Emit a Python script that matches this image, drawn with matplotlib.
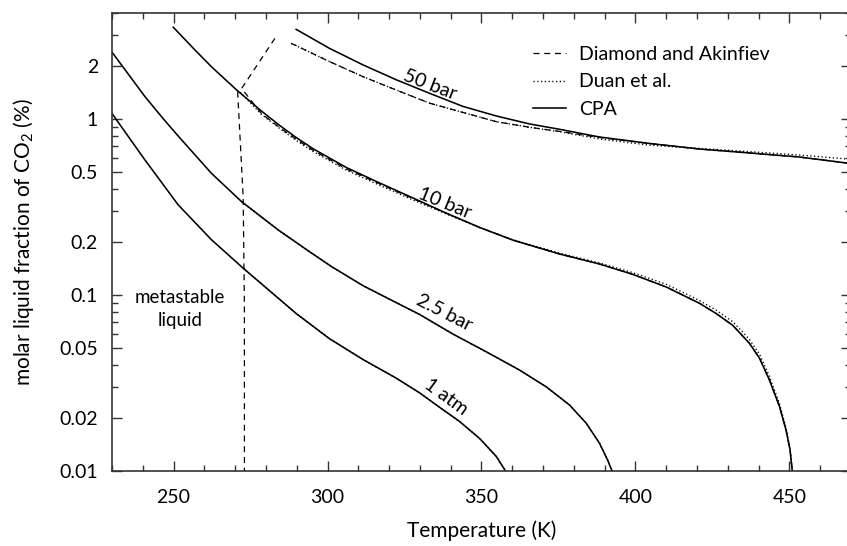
import matplotlib
matplotlib.use('Agg')
import matplotlib.pyplot as plt
from matplotlib.ticker import FixedLocator, NullFormatter, MultipleLocator

plt.rcParams['font.family'] = ['Lato', 'DejaVu Sans']
plt.rcParams['mathtext.fontset'] = 'custom'
plt.rcParams['mathtext.rm'] = 'Lato'
plt.rcParams['mathtext.it'] = 'Lato:italic'

# CPA solubility curves (T in K, x_CO2 in %)
cpa_1atm_T = [229.9, 240.7, 251.5, 262.3, 272.6, 289.8, 300.6, 311.5, 322.3, 329.9,
              336.4, 342.9, 349.4, 354.8, 357.8]
cpa_1atm_x = [1.08, 0.585, 0.325, 0.206, 0.142, 0.0785, 0.0565, 0.0430, 0.0337, 0.0278,
              0.0230, 0.0191, 0.0153, 0.0121, 0.010]

cpa_25bar_T = [229.9, 240.7, 246.7, 251.5, 262.3, 272.1, 284.0, 294.8, 301.3, 311.5,
               322.3, 329.9, 340.7, 351.5, 362.3, 371.0, 378.6, 384.0, 388.3, 391.0, 392.4]
cpa_25bar_x = [2.41, 1.34, 1.0, 0.80, 0.491, 0.339, 0.234, 0.173, 0.145, 0.113,
               0.0905, 0.0775, 0.0600, 0.0476, 0.0375, 0.0301, 0.0237, 0.0187, 0.0144, 0.0115, 0.0100]

cpa_10bar_T = [249.9, 256.9, 262.3, 270.5, 278.6, 284.4, 289.4, 295.2, 306.1, 316.9,
               327.7, 338.5, 349.4, 360.2, 375.3, 388.3, 399.1, 410.0, 420.8, 426.2,
               431.6, 437.0, 440.3, 443.5, 446.8, 448.9, 450.2, 450.9]
cpa_10bar_x = [3.32, 2.47, 1.98, 1.46, 1.107, 0.92, 0.794, 0.679, 0.530, 0.433,
               0.356, 0.292, 0.242, 0.205, 0.171, 0.150, 0.131, 0.111, 0.0897, 0.0785,
               0.0672, 0.0532, 0.0437, 0.0329, 0.0232, 0.0171, 0.0132, 0.0101]

cpa_50bar_T = [289.8, 300.6, 311.5, 322.3, 333.1, 343.9, 354.8, 365.6, 375.3, 388.3,
               404.5, 420.8, 437.0, 453.2, 470.0]
cpa_50bar_x = [3.23, 2.52, 2.03, 1.67, 1.40, 1.18, 1.04, 0.937, 0.874, 0.79,
               0.726, 0.675, 0.641, 0.608, 0.558]

# Duan et al.
duan_1atm_T = cpa_1atm_T[4:]
duan_1atm_x = cpa_1atm_x[4:]
duan_25bar_T = cpa_25bar_T[5:]
duan_25bar_x = cpa_25bar_x[5:]

duan_10bar_T = [271.6, 278.6, 284.4, 289.4, 295.2, 306.1, 316.9, 327.7, 338.5, 349.4,
                360.2, 375.3, 388.3, 399.1, 410.0, 420.8, 426.2, 431.6, 437.0, 440.3,
                443.5, 446.8, 448.9, 450.2, 450.9]
duan_10bar_x = [1.42, 1.06, 0.885, 0.765, 0.655, 0.512, 0.420, 0.347, 0.289, 0.241,
                0.206, 0.173, 0.152, 0.134, 0.115, 0.093, 0.082, 0.0705, 0.0560, 0.0460,
                0.0345, 0.0240, 0.0175, 0.0134, 0.0101]

duan_50bar_T = [288.2, 300.6, 311.5, 322.3, 333.1, 343.9, 354.8, 365.6, 375.3, 388.3,
                404.5, 420.8, 437.0, 453.2, 470.0]
duan_50bar_x = [2.69, 2.12, 1.74, 1.46, 1.23, 1.09, 0.965, 0.897, 0.847, 0.77,
                0.71, 0.68, 0.652, 0.624, 0.59]

# Diamond and Akinfiev
da_ice_T = [270.8, 272.6, 273.0, 273.0]
da_ice_x = [1.43, 0.362, 0.086, 0.010]

da_10bar_T = [282.9, 272.1, 278.6, 284.4, 289.4, 295.2, 306.1, 316.9, 327.7, 338.5,
              349.4, 360.2, 375.3, 388.3, 399.1, 410.0, 420.8, 426.2, 431.6, 437.0,
              440.3, 443.5, 446.8, 448.9, 450.2, 450.9]
da_10bar_x = [2.87, 1.49, 1.07, 0.895, 0.775, 0.665, 0.520, 0.428, 0.353, 0.292,
              0.242, 0.205, 0.171, 0.150, 0.131, 0.111, 0.0897, 0.0785, 0.0672, 0.0532,
              0.0437, 0.0329, 0.0232, 0.0171, 0.0132, 0.0101]

da_50bar_T = [288.2, 300.6, 311.5, 322.3, 333.1, 343.9, 354.8, 365.6, 375.3, 388.3,
              404.5, 420.8, 437.0, 453.2, 470.0]
da_50bar_x = [2.69, 2.12, 1.74, 1.46, 1.23, 1.09, 0.965, 0.897, 0.850, 0.785,
              0.726, 0.675, 0.641, 0.608, 0.558]

curve_labels = ['1 atm', '2.5 bar', '10 bar', '50 bar']
label_T = [338.6, 338.0, 338.0, 333.1]
label_x = [0.0263, 0.079, 0.333, 1.56]
label_rot = [-36, -27, -22, -21]

yticks_major = [0.01, 0.02, 0.05, 0.1, 0.2, 0.5, 1, 2]
ytick_labels = ['0.01', '0.02', '0.05', '0.1', '0.2', '0.5', '1', '2']
yticks_minor = [0.03, 0.04, 0.06, 0.07, 0.08, 0.09, 0.3, 0.4, 0.6, 0.7, 0.8, 0.9, 3, 4]

fig = plt.figure(figsize=(8.47, 5.46), dpi=100)
ax = fig.add_axes([112 / 847, 1 - 471 / 546, (851 - 112) / 847, (471 - 13) / 546])

dash = dict(color='black', lw=0.9, dashes=(4.8, 3.8))
dot = dict(color='black', lw=1.0, linestyle=(0, (0.9, 1.8)))
solid = dict(color='black', lw=1.15)

ax.plot(da_ice_T, da_ice_x, **dash)
ax.plot(da_10bar_T, da_10bar_x, **dash)
ax.plot(da_50bar_T, da_50bar_x, **dash, label='Diamond and Akinfiev')

ax.plot(duan_1atm_T, duan_1atm_x, **dot)
ax.plot(duan_25bar_T, duan_25bar_x, **dot)
ax.plot(duan_10bar_T, duan_10bar_x, **dot)
ax.plot(duan_50bar_T, duan_50bar_x, **dot, label='Duan et al.')

ax.plot(cpa_1atm_T, cpa_1atm_x, **solid)
ax.plot(cpa_25bar_T, cpa_25bar_x, **solid)
ax.plot(cpa_10bar_T, cpa_10bar_x, **solid)
ax.plot(cpa_50bar_T, cpa_50bar_x, **solid, label='CPA')

for txt, t, x, r in zip(curve_labels, label_T, label_x, label_rot):
    ax.text(t, x, txt, rotation=r, fontsize=14, ha='center', va='center',
            rotation_mode='anchor')

ax.text(252, 0.083, 'metastable\nliquid', fontsize=13.5, ha='center', va='center',
        linespacing=1.45)

ax.set_yscale('log')
ax.set_xlim(230, 470)
ax.set_ylim(0.01, 4.0)

ax.yaxis.set_major_locator(FixedLocator(yticks_major))
ax.yaxis.set_minor_locator(FixedLocator(yticks_minor))
ax.set_yticklabels(ytick_labels)
ax.yaxis.set_minor_formatter(NullFormatter())
ax.xaxis.set_major_locator(MultipleLocator(50))
ax.xaxis.set_minor_locator(MultipleLocator(10))

ax.tick_params(which='both', direction='in', top=True, right=True,
               labelsize=14, color='#333333', width=1.0)
ax.tick_params(which='major', length=7, pad=10)
ax.tick_params(axis='x', which='major', pad=13)
ax.tick_params(which='minor', length=4)

for s in ['left', 'bottom', 'top', 'right']:
    ax.spines[s].set_color('#333333')
    ax.spines[s].set_linewidth(1.2)

ax.set_xlabel('Temperature (K)', fontsize=15, labelpad=10)
ax.set_ylabel('molar liquid fraction of CO$_2$ (%)', fontsize=15, labelpad=17)

ax.legend(loc='upper left', bbox_to_anchor=((525 - 112) / 739, (471 - 38) / 458),
          frameon=False, fontsize=14, handlelength=1.7, handletextpad=0.7,
          labelspacing=0.55, borderaxespad=0)

fig.savefig('out.png', dpi=100)
